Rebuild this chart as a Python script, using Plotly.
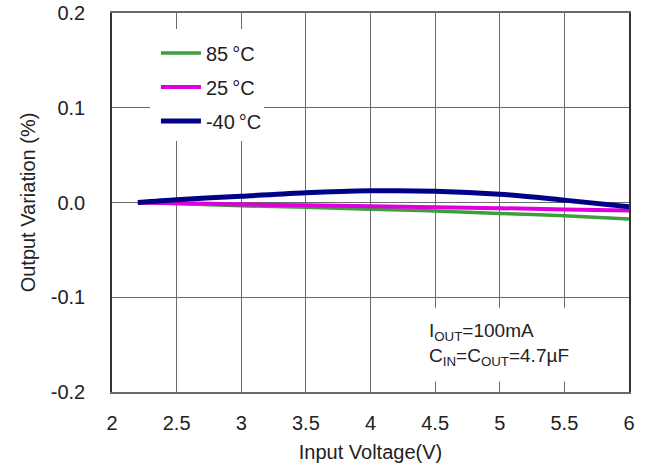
import plotly.graph_objects as go

# ---- data ----
vin = [2.2, 2.5, 3.0, 3.5, 4.0, 4.5, 5.0, 5.5, 6.0]
var_85 = [0.0, -0.001, -0.0035, -0.005, -0.007, -0.009, -0.0115, -0.014, -0.0175]
var_25 = [0.0, -0.0008, -0.002, -0.003, -0.004, -0.005, -0.006, -0.0073, -0.0085]
var_m40 = [0.0, 0.003, 0.0066, 0.0103, 0.0123, 0.0120, 0.0088, 0.0025, -0.0044]
series_names = ["85\u2009°C", "25\u2009°C", "-40\u2009°C"]
series_colors = ["#3d9e3d", "#dd00dd", "#000088"]
series_widths = [3.5, 4, 5]
x_ticks = [2, 2.5, 3, 3.5, 4, 4.5, 5, 5.5, 6]
x_tick_text = ["2", "2.5", "3", "3.5", "4", "4.5", "5", "5.5", "6"]
y_ticks = [-0.2, -0.1, 0.0, 0.1, 0.2]
y_tick_text = ["-0.2", "-0.1", "0.0", "0.1", "0.2"]

FONT = "Liberation Sans, Arial, sans-serif"
fig = go.Figure()
for i, (vals, name, col, w) in enumerate(zip([var_85, var_25, var_m40], series_names, series_colors, series_widths)):
    fig.add_trace(go.Scatter(x=vin, y=vals, mode="lines", name=name,
                             legendgroup=f"g{i}",
                             line=dict(color=col, width=w, shape="spline", smoothing=0.8)))

grid_col = "#6a6a6a"
fig.update_layout(
    width=650, height=467,
    margin=dict(l=112, r=21, t=13, b=75),
    plot_bgcolor="white", paper_bgcolor="white",
    font=dict(family=FONT, size=20, color="#222"),
    showlegend=True,
    legend=dict(x=0.085, y=0.946, xanchor="left", yanchor="top",
                bgcolor="rgba(0,0,0,0)", font=dict(size=20, color="#222"),
                tracegroupgap=5, itemwidth=40),
    xaxis=dict(range=[2, 6], tickvals=x_ticks, ticktext=x_tick_text, automargin=False,
               ticklabeloverflow="allow",
               showgrid=True, gridcolor=grid_col, gridwidth=1.3,
               showline=True, linecolor=grid_col, linewidth=1.5, mirror=True,
               ticks="inside", ticklen=10, tickcolor=grid_col, tickwidth=1.3,
               ticklabelstandoff=12,
               title=dict(text="Input Voltage(V)", standoff=12, font=dict(size=20)),
               zeroline=False),
    yaxis=dict(range=[-0.2, 0.2], tickvals=y_ticks, ticktext=y_tick_text, automargin=False,
               ticklabeloverflow="allow",
               showgrid=True, gridcolor=grid_col, gridwidth=1.3,
               showline=True, linecolor="#333", linewidth=1.5, mirror=True,
               ticks="", ticklabelstandoff=21,
               title=dict(text="Output Variation (%)", standoff=10, font=dict(size=20)),
               zeroline=False),
)

# white boxes hiding the grid behind legend and note
fig.add_shape(type="rect", xref="x", yref="y", x0=2.294, x1=3.176, y0=0.065, y1=0.183,
              fillcolor="white", line=dict(width=0), layer="between")
fig.add_shape(type="rect", xref="x", yref="y", x0=4.38, x1=5.99, y0=-0.189, y1=-0.111,
              fillcolor="white", line=dict(width=0), layer="between")

fig.add_annotation(xref="x", yref="y", x=4.44, y=-0.150, xanchor="left", yanchor="middle",
                   align="left", showarrow=False,
                   text="I<sub>OUT</sub>=100mA<br>C<sub>IN</sub>=C<sub>OUT</sub>=4.7µF",
                   font=dict(size=19, color="#222"))

fig.write_html("out.html", config={"displayModeBar": False},
               post_script="document.body.style.margin='0';document.body.style.overflow='hidden';")
